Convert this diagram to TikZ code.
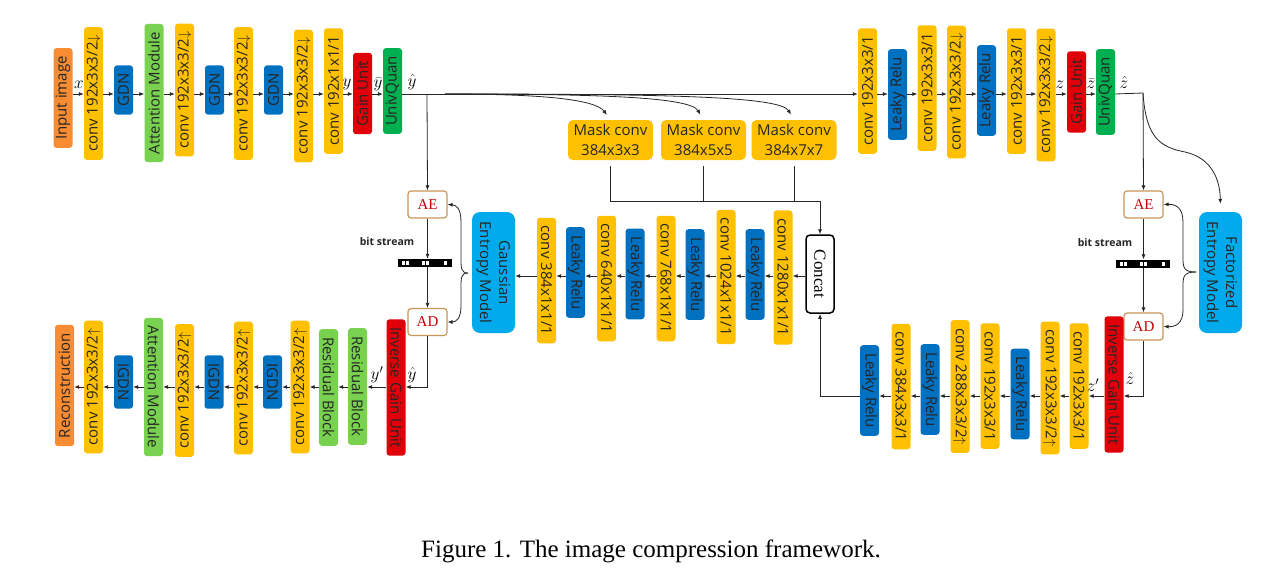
\documentclass[tikz,border=0pt]{standalone}
\usepackage{fontspec}
\usepackage{graphicx}
\usetikzlibrary{arrows.meta}
\setmainfont{Open Sans}
\newfontfamily\timesfont{Liberation Serif}

\definecolor{convc}{RGB}{255,192,0}
\definecolor{reluc}{RGB}{0,112,192}
\definecolor{gainc}{RGB}{224,0,10}
\definecolor{quanc}{RGB}{0,176,80}
\definecolor{attc}{RGB}{120,210,80}
\definecolor{ioc}{RGB}{247,140,50}
\definecolor{entc}{RGB}{0,170,236}
\definecolor{coderc}{RGB}{200,150,90}
\definecolor{aecol}{RGB}{192,0,0}

\newcommand{\rotup}[1]{\rotatebox{90}{#1}}
\newcommand{\rotdn}[1]{\rotatebox{-90}{#1}}
\newcommand{\boxfont}{\fontsize{15}{17}\selectfont}

\begin{document}
\begin{tikzpicture}[x=1pt,y=-1pt,
  blk/.style={rounded corners=3pt, minimum width=19pt, inner xsep=0pt, inner ysep=8pt, font=\boxfont, text=black!85},
  cv/.style={blk, fill=convc},
  lr/.style={blk, fill=reluc},
  gn/.style={blk, fill=gainc},
  uq/.style={blk, fill=quanc},
  am/.style={blk, fill=attc},
  io/.style={blk, fill=ioc},
  em/.style={rounded corners=8pt, fill=entc, minimum width=43pt, minimum height=121pt, inner sep=0pt, font=\fontsize{15}{19}\selectfont, text=black!85},
  coder/.style={draw=coderc, line width=1.2pt, fill=white, rounded corners=3pt, minimum width=39pt, minimum height=27pt, inner sep=0pt, text=aecol, font=\timesfont\fontsize{15}{17}\selectfont},
  mask/.style={rounded corners=5pt, fill=convc, minimum width=85pt, minimum height=40pt, inner sep=0pt, align=center, font=\fontsize{15}{20}\selectfont, text=black!85},
  bits/.style={fill=black, minimum width=54pt, minimum height=8pt, inner sep=0pt},
  lbl/.style={inner sep=0pt, font=\fontsize{17}{17}\selectfont},
  bitlbl/.style={inner sep=0pt, font=\bfseries\fontsize{10.5}{12}\selectfont, text=black!85},
  arr/.style={-{Latex[length=5pt,width=4pt]}, line width=0.8pt, draw=black!85},
  ln/.style={line width=0.8pt, draw=black!85}]
\fill[white] (0,0) rectangle (1269,587);

% rows of arrows
\coordinate (r1) at (0,94);
\coordinate (r2) at (0,276);
\coordinate (r3) at (0,387);
\coordinate (r4) at (0,396);

% encoder
\node[io] (in) at (63,98) {\rotup{Input image}};
\node[cv] (c1) at (93.5,93.5) {\rotup{conv 192x3x3/2$\downarrow$}};
\node[lr] (g1) at (123.5,90) {\rotup{GDN}};
\node[am] (am1) at (154,93) {\rotup{Attention Module}};
\node[cv] (c2) at (184.5,90) {\rotup{conv 192x3x3/2$\downarrow$}};
\node[lr] (g2) at (214.5,90) {\rotup{GDN}};
\node[cv] (c3) at (243.5,93.5) {\rotup{conv 192x3x3/2$\downarrow$}};
\node[lr] (g3) at (273.5,90) {\rotup{GDN}};
\node[cv] (c4) at (303.5,96) {\rotup{conv 192x3x3/2$\downarrow$}};
\node[cv] (c5) at (333.5,91) {\rotup{conv 192x1x1/1}};
\node[gn] (gu1) at (362.5,93.5) {\rotup{Gain Unit}};
\node[uq] (uq1) at (392.5,91) {\rotup{UnivQuan}};

\foreach \a/\b in {in/c1,c1/g1,g1/am1,am1/c2,c2/g2,g2/c3,c3/g3,g3/c4,c4/c5,c5/gu1,gu1/uq1}
  \draw[arr] (\a.east |- r1) -- (\b.west |- r1);

\node[lbl] (lx) at (79,85) {$x$};
\node[lbl] (ly) at (347,84) {$y$};
\node[lbl] (lyb) at (378,84) {$\bar{y}$};
\node[lbl] (lyh) at (412,82) {$\hat{y}$};

% hyper encoder
\node[cv] (h1) at (867.5,91) {\rotup{conv 192x3x3/1}};
\node[lr] (h2) at (897.5,94.5) {\rotup{Leaky Relu}};
\node[cv] (h3) at (927,88) {\rotup{conv 192x3x3/1}};
\node[cv] (h4) at (956.5,92) {\rotup{conv 192x3x3/2$\downarrow$}};
\node[lr] (h5) at (986.5,90.5) {\rotup{Leaky Relu}};
\node[cv] (h6) at (1016.5,91) {\rotup{conv 192x3x3/1}};
\node[cv] (h7) at (1046,95) {\rotup{conv 192x3x3/2$\downarrow$}};
\node[gn] (gu2) at (1076.5,92) {\rotup{Gain Unit}};
\node[uq] (uq2) at (1105.5,92) {\rotup{UnivQuan}};

\foreach \a/\b in {h1/h2,h2/h3,h3/h4,h4/h5,h5/h6,h6/h7,h7/gu2,gu2/uq2}
  \draw[arr] (\a.east |- r1) -- (\b.west |- r1);

\node[lbl] (lz) at (1060,85) {$z$};
\node[lbl] (lzb) at (1091,84) {$\bar{z}$};
\node[lbl] (lzh) at (1124,82) {$\hat{z}$};

% mask convs and concat
\node[mask] (m1) at (610.5,140) {Mask conv\\384x3x3};
\node[mask] (m2) at (703.5,140) {Mask conv\\384x5x5};
\node[mask] (m3) at (794,140) {Mask conv\\384x7x7};
\node[draw=black, line width=1.5pt, rounded corners=4pt, fill=white, minimum width=28pt, minimum height=78pt, inner sep=0pt, font=\timesfont\fontsize{17}{17}\selectfont] (cc) at (820,274) {\rotdn{Concat}};

% context / entropy parameters
\node[cv] (p1) at (783,277.5) {\rotdn{conv 1280x1x1/1}};
\node[lr] (p2) at (755,274.5) {\rotdn{Leaky Relu}};
\node[cv] (p3) at (726,277) {\rotdn{conv 1024x1x1/1}};
\node[lr] (p4) at (695,274.5) {\rotdn{Leaky Relu}};
\node[cv] (p5) at (666,278.5) {\rotdn{conv 768x1x1/1}};
\node[lr] (p6) at (635,274) {\rotdn{Leaky Relu}};
\node[cv] (p7) at (606.5,278.5) {\rotdn{conv 640x1x1/1}};
\node[lr] (p8) at (575.5,272.5) {\rotdn{Leaky Relu}};
\node[cv] (p9) at (546.5,280.5) {\rotdn{conv 384x1x1/1}};
\node[em] (gem) at (493.5,272.5) {\rotdn{\begin{tabular}{@{}c@{}}Gaussian\\Entropy Model\end{tabular}}};

\draw[arr] (cc.west |- r2) -- (p1.east |- r2);
\foreach \a/\b in {p1/p2,p2/p3,p3/p4,p4/p5,p5/p6,p6/p7,p7/p8,p8/p9,p9/gem}
  \draw[arr] (\a.west |- r2) -- (\b.east |- r2);

% coding of y
\node[coder] (ae1) at (427.5,204.5) {AE};
\node[bits] (bs1) at (424.5,263) {};
\foreach \dx in {5,9,25,29,47}
  \fill[white] ([xshift=\dx pt, yshift=2pt]bs1.west) rectangle ++(3,4);
\node[bitlbl] (bt1) at (387,242) {bit stream};
\node[coder] (ad1) at (427.5,322) {AD};

\draw[arr] (ae1.south) -- (ae1.south |- bs1.north);
\draw[arr] (ae1.south |- bs1.south) -- (ad1.north);

\coordinate (bl) at (468,273);
\draw[arr] (bl) .. controls (461,273) and (461,268) .. (461,258) -- (461,222) .. controls (461,208) and (456,205) .. (ae1.east);
\draw[arr] (bl) .. controls (461,273) and (461,278) .. (461,288) -- (461,306) .. controls (461,319) and (456,322) .. (ad1.east);

% coding of z
\node[coder] (ae2) at (1143.5,204.5) {AE};
\node[bits] (bs2) at (1142.5,263.5) {};
\foreach \dx in {5,9,25,29,47}
  \fill[white] ([xshift=\dx pt, yshift=2pt]bs2.west) rectangle ++(3,4);
\node[bitlbl] (bt2) at (1105,243) {bit stream};
\node[coder] (ad2) at (1143.5,326.5) {AD};
\node[em] (fem) at (1220.5,272.5) {\rotdn{\begin{tabular}{@{}c@{}}Factorized\\Entropy Model\end{tabular}}};

\draw[arr] (ae2.south) -- (ae2.south |- bs2.north);
\draw[arr] (ae2.south |- bs2.south) -- (ad2.north);

\coordinate (br) at (1196,272);
\draw[arr] (br) .. controls (1183,272) and (1183,267) .. (1183,257) -- (1183,222) .. controls (1183,208) and (1176,204) .. (ae2.east);
\draw[arr] (br) .. controls (1183,272) and (1183,277) .. (1183,287) -- (1183,310) .. controls (1183,323) and (1176,327) .. (ad2.east);

% y hat branches
\coordinate (j1) at (427,94);
\coordinate (fan) at (445,94);
\draw[ln] (uq1.east |- r1) -- (j1);
\draw[arr] (j1) -- (h1.west |- r1);
\draw[arr] (j1) -- (ae1.north);
\draw[arr, shorten >=6pt] (fan) .. controls (540,94) and (595,99) .. (m1.north);
\draw[arr, shorten >=6pt] (fan) .. controls (600,94) and (690,97) .. (m2.north);
\draw[arr, shorten >=6pt] (fan) .. controls (660,94) and (780,96) .. (m3.north);

\coordinate (cj) at (820,201);
\draw[ln, shorten <=6pt] (m1.south) -- (m1.south |- cj) -- (cj);
\draw[ln, shorten <=6pt] (m2.south) -- (m2.south |- cj);
\draw[ln, shorten <=6pt] (m3.south) -- (m3.south |- cj);
\draw[arr] (cj) -- (cc.north);

% z hat branches
\coordinate (j2) at (1143,93);
\draw[ln] (uq2.east |- r1) -- (j2);
\draw[arr] (j2) -- (ae2.north);
\draw[arr, shorten >=8pt] (j2) .. controls (1146,138) and (1160,147) .. (1185,152) .. controls (1212,158) and (1220,180) .. (fem.north);

% decoder
\node[gn] (igu1) at (396,387.5) {\rotdn{Inverse Gain Unit}};
\node[am] (rb2) at (357.5,386.5) {\rotdn{Residual Block}};
\node[am] (rb1) at (328.5,387.5) {\rotdn{Residual Block}};
\node[cv] (d1) at (300,387) {\rotup{conv 192x3x3/2$\uparrow$}};
\node[lr] (ig1) at (272.5,382) {\rotdn{IGDN}};
\node[cv] (d2) at (243.5,388) {\rotup{conv 192x3x3/2$\uparrow$}};
\node[lr] (ig2) at (214,382) {\rotdn{IGDN}};
\node[cv] (d3) at (184.5,390.5) {\rotup{conv 192x3x3/2$\uparrow$}};
\node[am] (am2) at (153.5,387) {\rotdn{Attention Module}};
\node[lr] (ig3) at (123.5,382) {\rotdn{IGDN}};
\node[cv] (d4) at (93.5,387) {\rotup{conv 192x3x3/2$\uparrow$}};
\node[io] (rec) at (64.5,385.5) {\rotup{Reconstruction}};

\draw[arr] (ad1.south) |- (igu1.east |- r3);
\foreach \a/\b in {igu1/rb2,rb2/rb1,rb1/d1,d1/ig1,ig1/d2,d2/ig2,ig2/d3,d3/am2,am2/ig3,ig3/d4,d4/rec}
  \draw[arr] (\a.west |- r3) -- (\b.east |- r3);

\node[lbl] (lyp) at (377,375) {$y'$};
\node[lbl] (lyh2) at (412,375) {$\hat{y}$};

% hyper decoder
\node[gn] (igu2) at (1114,384.5) {\rotdn{Inverse Gain Unit}};
\node[cv] (e1) at (1079,386) {\rotdn{conv 192x3x3/1}};
\node[cv] (e2) at (1050,388) {\rotdn{conv 192x3x3/2$\uparrow$}};
\node[lr] (e3) at (1020,394) {\rotdn{Leaky Relu}};
\node[cv] (e4) at (990,386) {\rotdn{conv 192x3x3/1}};
\node[cv] (e5) at (960,386.5) {\rotdn{conv 288x3x3/2$\uparrow$}};
\node[lr] (e6) at (930,389.5) {\rotdn{Leaky Relu}};
\node[cv] (e7) at (901,386.5) {\rotdn{conv 384x3x3/1}};
\node[lr] (e8) at (869.5,390.5) {\rotdn{Leaky Relu}};

\draw[arr] (ad2.south) |- (igu2.east |- r4);
\foreach \a/\b in {igu2/e1,e1/e2,e2/e3,e3/e4,e4/e5,e5/e6,e6/e7,e7/e8}
  \draw[arr] (\a.west |- r4) -- (\b.east |- r4);
\draw[arr] (e8.west |- r4) -| (cc.south);

\node[lbl] (lzp) at (1093,385) {$z'$};
\node[lbl] (lzh2) at (1130,378) {$\hat{z}$};

\node[font=\timesfont\fontsize{25}{30}\selectfont, anchor=base] (cap) at (651,557) {Figure 1. The image compression framework.};
\end{tikzpicture}
\end{document}
